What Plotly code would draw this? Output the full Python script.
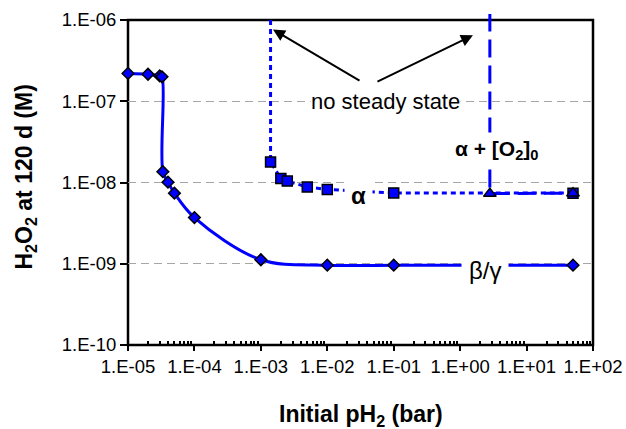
import math
import plotly.graph_objects as go

# --- data -------------------------------------------------------------
# beta/gamma branch: H2O2 after 120 d vs initial pH2
bg_ph2 = [1e-5, 2e-5, 3e-5, 3.25e-5, 3.35e-5, 4e-5, 5e-5, 1e-4, 1e-3, 1e-2, 1e-1, 50]
bg_h2o2 = [2.2e-7, 2.15e-7, 2.05e-7, 2.0e-7, 1.36e-8, 1.01e-8, 7.4e-9, 3.7e-9,
           1.12e-9, 0.96e-9, 0.96e-9, 0.96e-9]

# alpha branch (below 1.4e-3 bar there is no steady state)
alpha_ph2 = [1.4e-3, 2e-3, 2.5e-3, 5e-3, 1e-2, 1e-1, 50]
alpha_h2o2 = [1.79e-8, 1.12e-8, 1.04e-8, 8.8e-9, 8.2e-9, 7.45e-9, 7.4e-9]
alpha_no_ss_top = 1e-6

# alpha + initial O2 branch
o2_ph2 = [2.8, 50]
o2_h2o2 = [7.3e-9, 7.4e-9]
o2_no_ss_top = 1.2e-6

# axis ticks
x_tickvals = [1e-5, 1e-4, 1e-3, 1e-2, 1e-1, 1e0, 1e1, 1e2]
x_ticktext = ["1.E-05", "1.E-04", "1.E-03", "1.E-02", "1.E-01", "1.E+00", "1.E+01", "1.E+02"]
y_tickvals = [1e-10, 1e-9, 1e-8, 1e-7, 1e-6]
y_ticktext = ["1.E-10", "1.E-09", "1.E-08", "1.E-07", "1.E-06"]
y_gridvals = [1e-9, 1e-8, 1e-7]

# --- styling ----------------------------------------------------------
FONT = "Arial, 'Liberation Sans', sans-serif"
BLUE = "#0000FF"
X_RANGE = [-5, 2]
Y_RANGE = [-10, -5.926]
BOX_TOP = (math.log10(1e-6) - Y_RANGE[0]) / (Y_RANGE[1] - Y_RANGE[0])

fig = go.Figure()

# lines
fig.add_trace(go.Scatter(
    x=bg_ph2, y=bg_h2o2, mode="lines",
    line=dict(color=BLUE, width=3, shape="spline", smoothing=1),
    hoverinfo="skip", showlegend=False))
fig.add_trace(go.Scatter(
    x=[alpha_ph2[0]] + alpha_ph2, y=[alpha_no_ss_top] + alpha_h2o2, mode="lines",
    line=dict(color=BLUE, width=3, dash="5px,4px"),
    hoverinfo="skip", showlegend=False))
fig.add_trace(go.Scatter(
    x=[o2_ph2[0]] + o2_ph2, y=[o2_no_ss_top] + o2_h2o2, mode="lines",
    line=dict(color=BLUE, width=3, dash="18px,8px"),
    hoverinfo="skip", showlegend=False))

# markers
fig.add_trace(go.Scatter(
    x=bg_ph2, y=bg_h2o2, mode="markers", cliponaxis=False,
    marker=dict(symbol="diamond", size=9, color=BLUE, line=dict(color="black", width=1.5)),
    showlegend=False))
fig.add_trace(go.Scatter(
    x=alpha_ph2, y=alpha_h2o2, mode="markers", cliponaxis=False,
    marker=dict(symbol="square", size=10, color=BLUE, line=dict(color="black", width=1.5)),
    showlegend=False))
fig.add_trace(go.Scatter(
    x=o2_ph2, y=o2_h2o2, mode="markers", cliponaxis=False,
    marker=dict(symbol="triangle-up", size=11, color=BLUE, line=dict(color="black", width=1.5)),
    showlegend=False))

# plot frame
fig.add_shape(type="rect", xref="x domain", yref="y domain",
              x0=0, x1=1, y0=0, y1=BOX_TOP,
              line=dict(color="black", width=2.5), layer="below")

# labels and arrows
def lg(v):
    return math.log10(v)

fig.add_annotation(x=lg(0.075), y=lg(1e-7), text="no steady state", showarrow=False,
                   font=dict(family=FONT, size=22, color="black"),
                   bgcolor="white", borderpad=0)
fig.add_annotation(x=-2.817, y=-6.118, ax=88, ay=52, text="", showarrow=True,
                   arrowhead=2, arrowsize=1.2, arrowwidth=2, arrowcolor="black")
fig.add_annotation(x=0.193, y=-6.188, ax=-97, ay=47, text="", showarrow=True,
                   arrowhead=2, arrowsize=1.2, arrowwidth=2, arrowcolor="black")
fig.add_annotation(x=0.558, y=-7.604, text="<b>α + [O<sub>2</sub>]<sub>0</sub></b>",
                   showarrow=False, font=dict(family=FONT, size=21, color="black"),
                   bgcolor="white", borderpad=4)
fig.add_annotation(x=-1.527, y=-8.166, text="<b>α</b>", showarrow=False,
                   font=dict(family=FONT, size=24, color="black"),
                   bgcolor="white", borderpad=6)
fig.add_annotation(x=0.380, y=-9.081, text="β/γ", showarrow=False,
                   font=dict(family=FONT, size=24, color="black"),
                   bgcolor="white", borderpad=7)

# axis titles
fig.add_annotation(xref="paper", yref="paper", x=0.5, y=-0.212,
                   xanchor="center", yanchor="middle", showarrow=False,
                   text="<b>Initial pH<sub>2</sub> (bar)</b>",
                   font=dict(family=FONT, size=23, color="black"))
fig.add_annotation(xref="paper", yref="paper", x=-0.2194, y=0.509,
                   xanchor="center", yanchor="middle", showarrow=False, textangle=-90,
                   text="<b>H<sub>2</sub>O<sub>2</sub> at 120 d (M)</b>",
                   font=dict(family=FONT, size=23, color="black"))

fig.update_xaxes(
    type="log", range=X_RANGE, showline=False, showgrid=False, zeroline=False,
    automargin=False,
    tickmode="array", tickvals=x_tickvals, ticktext=x_ticktext,
    ticks="outside", ticklen=5, tickwidth=2, tickcolor="black",
    minor=dict(tickmode="array",
               tickvals=[m * 10 ** e for e in range(-5, 2) for m in range(2, 10)],
               ticks="inside", ticklen=4, tickwidth=1.5, tickcolor="black", showgrid=False),
    tickfont=dict(family=FONT, size=18.5, color="black"),
)
fig.update_yaxes(
    type="log", range=Y_RANGE, showline=False, zeroline=False, showgrid=False,
    automargin=False,
    tickmode="array", tickvals=y_tickvals, ticktext=y_ticktext,
    ticks="outside", ticklen=7, tickwidth=2, tickcolor="black",
    minor=dict(tickmode="array", tickvals=y_gridvals, ticks="",
               showgrid=True, gridcolor="#a6a6a6", gridwidth=1, griddash="8px,5px"),
    tickfont=dict(family=FONT, size=18.5, color="black"),
)

fig.update_layout(
    width=626, height=429,
    margin=dict(l=128, r=33, t=14, b=84),
    paper_bgcolor="white", plot_bgcolor="white",
    font=dict(family=FONT),
)

fig.write_html("out.html")
